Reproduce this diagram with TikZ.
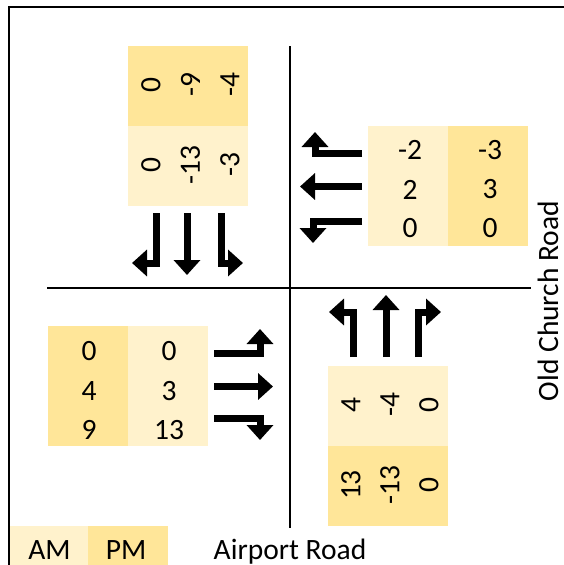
\documentclass[tikz,border=0pt]{standalone}
\usepackage{fontspec}
\setmainfont{Carlito}
\usetikzlibrary{arrows.meta}
\definecolor{amc}{HTML}{FFF2CC}
\definecolor{pmc}{HTML}{FFE699}
\tikzset{
  am/.style={fill=amc},
  pm/.style={fill=pmc},
  lbl/.style={font=\fontsize{29.5}{32}\selectfont, inner sep=0pt},
  vlbl/.style={lbl, rotate=90},
  mv/.style={line width=7pt, -{Triangle[width=26pt,length=15pt]}},
  road/.style={line width=2pt},
}
\begin{document}
\begin{tikzpicture}[x=1pt,y=-1pt]
\useasboundingbox (0,0) rectangle (564,565);
% outer frame (top and left edges)
\draw[line width=2pt] (9,565) -- (9,7) -- (564,7);
% road centre lines
\draw[road] (289.5,46) -- (289.5,528);
\draw[road] (47,287.5) -- (531,287.5);

% southbound approach (top)
\fill[pm] (128,46) rectangle (248,126);
\fill[am] (128,126) rectangle (248,206);
\node[vlbl] (sp1) at (151,85) {0};
\node[vlbl] (sp2) at (190.5,85) {-9};
\node[vlbl] (sp3) at (230,85) {-4};
\node[vlbl] (sa1) at (151,165) {0};
\node[vlbl] (sa2) at (190.5,165) {-13};
\node[vlbl] (sa3) at (230,165) {-3};
\draw[mv] (156.5,213) -- (156.5,263) -- (132,263);
\draw[mv] (187,213) -- (187,275);
\draw[mv] (221,213) -- (221,263) -- (243,263);

% westbound approach (right)
\fill[am] (368,126) rectangle (448,246);
\fill[pm] (448,126) rectangle (528,246);
\node[lbl] (wa1) at (410,150) {-2};
\node[lbl] (wa2) at (410,189.5) {2};
\node[lbl] (wa3) at (410,228.5) {0};
\node[lbl] (wp1) at (490,150) {-3};
\node[lbl] (wp2) at (490,189.5) {3};
\node[lbl] (wp3) at (490,228.5) {0};
\draw[mv] (362,153) -- (315,153) -- (315,132);
\draw[mv] (362,186.5) -- (300,186.5);
\draw[mv] (362,221.5) -- (313,221.5) -- (313,243);

% eastbound approach (left)
\fill[pm] (48,326) rectangle (128,446);
\fill[am] (128,326) rectangle (208,446);
\node[lbl] (ep1) at (89,351) {0};
\node[lbl] (ep2) at (89,391) {4};
\node[lbl] (ep3) at (89,430) {9};
\node[lbl] (ea1) at (169,351) {0};
\node[lbl] (ea2) at (169,391) {3};
\node[lbl] (ea3) at (169,430) {13};
\draw[mv] (214,353.5) -- (260,353.5) -- (260,329);
\draw[mv] (214,386.5) -- (273,386.5);
\draw[mv] (214,418.5) -- (260,418.5) -- (260,440);

% northbound approach (bottom)
\fill[am] (328,366) rectangle (448,446);
\fill[pm] (328,446) rectangle (448,526);
\node[vlbl] (na1) at (351,405) {4};
\node[vlbl] (na2) at (390,405) {-4};
\node[vlbl] (na3) at (429,405) {0};
\node[vlbl] (np1) at (351,485) {13};
\node[vlbl] (np2) at (390,485) {-13};
\node[vlbl] (np3) at (429,485) {0};
\draw[mv] (353.5,357) -- (353.5,312) -- (329,312);
\draw[mv] (386,357) -- (386,295);
\draw[mv] (418,357) -- (418,312) -- (441,312);

% legend and road names
\fill[am] (10,526) rectangle (88,565);
\fill[pm] (88,526) rectangle (168,565);
\node[lbl, anchor=base] (lam) at (49.5,559) {AM};
\node[lbl, anchor=base] (lpm) at (126,559) {PM};
\node[lbl, anchor=base] (air) at (290,559) {Airport Road};
\node[vlbl, anchor=base] (och) at (558,301) {Old Church Road};
\end{tikzpicture}
\end{document}
